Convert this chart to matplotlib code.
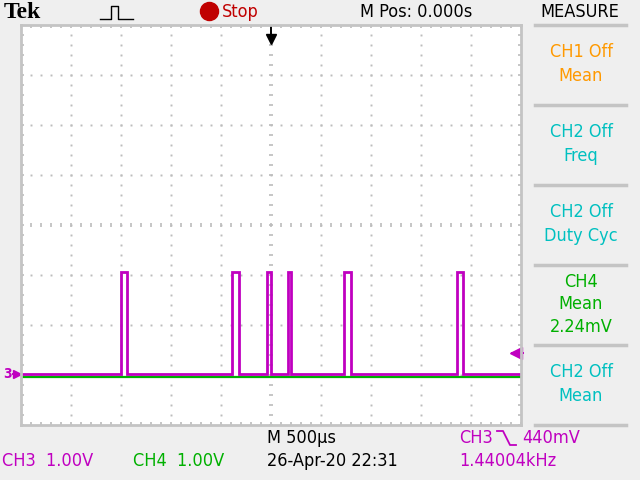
import matplotlib
matplotlib.use("Agg")
import matplotlib.pyplot as plt
from matplotlib.lines import Line2D

plt.rcParams['font.family'] = ['DejaVu Sans']
plt.rcParams['font.stretch'] = 'condensed'

# CH3 pulse edges, ms (500 us/div, trigger at 0)
rise_ms = [-1.503, -0.387, -0.043, 0.173, 0.733, 1.857]
fall_ms = [-1.443, -0.323, 0.000, 0.197, 0.800, 1.923]
ch3_low_v = 0.02
ch3_high_v = 2.06
ch3_offset_div = -3.0
ch4_level_v = -0.05
ch4_offset_div = -3.0
trig_level_v = 0.44

MAG = '#c000c0'
GRN = '#00b000'
ORA = '#ff9900'
CYA = '#00c0c0'
GRID = '#bcbcbc'
BG = '#efefef'
FS = 13

fig = plt.figure(figsize=(6.4, 4.8), dpi=100, facecolor=BG)


def fx(x):
    return x / 640


def fy(y):
    return 1 - y / 480


ax = fig.add_axes([fx(21), fy(425), 500 / 640, 400 / 480], facecolor='white')
ax.set_xlim(-2.5, 2.5)
ax.set_ylim(-4, 4)
ax.set_xticks([])
ax.set_yticks([])
for s in ax.spines.values():
    s.set_color('#c4c4c4')
    s.set_linewidth(2)

# dotted graticule
steps = [i * 0.2 for i in range(-20, 21)]
for k in range(-4, 5):
    if k == 0:
        continue
    ax.plot([k * 0.5] * len(steps), steps, ls='none', marker='s',
            ms=1.4, color=GRID, mew=0)
xs = [i * 0.1 for i in range(-25, 26)]
for k in range(-3, 4):
    if k == 0:
        continue
    ax.plot(xs, [k] * len(xs), ls='none', marker='s', ms=1.4, color=GRID, mew=0)

# center cross with ticks, and edge ticks
ax.plot([0] * len(steps), steps, ls='none', marker='_', ms=3.2, mew=1.2, color=GRID)
ax.plot(xs, [0] * len(xs), ls='none', marker='|', ms=3.2, mew=1.2, color=GRID)
ax.plot([-2.5] * len(steps), steps, ls='none', marker='_', ms=4, mew=1.2, color=GRID)
ax.plot([2.5] * len(steps), steps, ls='none', marker='_', ms=4, mew=1.2, color=GRID)
ax.plot(xs, [4] * len(xs), ls='none', marker='|', ms=4, mew=1.2, color=GRID)
ax.plot(xs, [-4] * len(xs), ls='none', marker='|', ms=4, mew=1.2, color=GRID)

# CH4 trace
ax.plot([-2.5, 2.5], [ch4_level_v + ch4_offset_div] * 2, color=GRN, lw=1.6,
        solid_capstyle='butt')

# CH3 trace
t = [-2.5]
v = [ch3_low_v]
for r, f in zip(rise_ms, fall_ms):
    t += [r, r, f, f]
    v += [ch3_low_v, ch3_high_v, ch3_high_v, ch3_low_v]
t.append(2.5)
v.append(ch3_low_v)
ax.plot(t, [vv + ch3_offset_div for vv in v], color=MAG, lw=2.0,
        solid_joinstyle='miter')

# markers: ground (left), trigger level (right), trigger position (top)
gy = ch3_low_v + ch3_offset_div
ax.plot([-2.58, -2.51], [gy, gy], color=MAG, lw=1.4, clip_on=False)
ax.plot([-2.545], [gy], marker='>', ms=6, color=MAG, clip_on=False)
ax.text(-2.64, gy, '3', color=MAG, fontsize=10, fontweight='bold',
        ha='center', va='center', clip_on=False)
ty = trig_level_v + ch3_offset_div
ax.plot([2.41, 2.52], [ty, ty], color=MAG, lw=1.4, clip_on=False)
ax.plot([2.45], [ty], marker='<', ms=8, color=MAG, clip_on=False)
ax.plot([0, 0], [3.96, 3.72], color='black', lw=1.4)
ax.plot([0], [3.72], marker='v', ms=7, color='black')

# header
fig.text(fx(4), fy(12), 'Tek', family=['Liberation Serif', 'DejaVu Serif'],
         fontsize=17, fontweight='bold', va='center', stretch='normal')
icon_x = [100, 103, 106, 109, 111, 111, 118, 118, 121, 124, 127, 130, 133]
icon_y = [19, 19, 19, 19, 19, 6, 6, 19, 19, 19, 19, 19, 19]
fig.add_artist(Line2D([fx(x) for x in icon_x], [fy(y) for y in icon_y],
                      color='black', lw=1.0, transform=fig.transFigure))
fig.add_artist(Line2D([fx(209)], [fy(11)], marker='o', ms=13, color='#c00000',
                      transform=fig.transFigure))
fig.text(fx(222), fy(12), 'Stop', color='#c00000', fontsize=FS, va='center')
fig.text(fx(360), fy(12), 'M Pos: 0.000s', fontsize=FS, va='center')
fig.text(fx(580), fy(12), 'MEASURE', fontsize=FS, va='center', ha='center')

# measure panel
for y in [25, 105, 185, 265, 345, 425]:
    fig.add_artist(Line2D([fx(535), fx(626)], [fy(y), fy(y)], color='#c4c4c4',
                          lw=2.5, transform=fig.transFigure))
panel = [
    (52, 'CH1 Off', ORA), (76, 'Mean', ORA),
    (132, 'CH2 Off', CYA), (156, 'Freq', CYA),
    (212, 'CH2 Off', CYA), (236, 'Duty Cyc', CYA),
    (282, 'CH4', GRN), (304, 'Mean', GRN), (327, '2.24mV', GRN),
    (372, 'CH2 Off', CYA), (396, 'Mean', CYA),
]
for y, s, c in panel:
    fig.text(fx(581), fy(y), s, color=c, fontsize=FS, ha='center', va='center')

# footer
fig.text(fx(267), fy(438), 'M 500\u00b5s', fontsize=FS, va='center')
fig.text(fx(459), fy(438), 'CH3', color=MAG, fontsize=FS, va='center')
edge_x = [497, 503, 510, 516]
edge_y = [431, 431, 445, 445]
fig.add_artist(Line2D([fx(x) for x in edge_x], [fy(y) for y in edge_y],
                      color=MAG, lw=1.3, transform=fig.transFigure))
fig.text(fx(522), fy(438), '440mV', color=MAG, fontsize=FS, va='center')
fig.text(fx(2), fy(461), 'CH3  1.00V', color=MAG, fontsize=FS, va='center')
fig.text(fx(133), fy(461), 'CH4  1.00V', color=GRN, fontsize=FS, va='center')
fig.text(fx(267), fy(461), '26-Apr-20 22:31', fontsize=FS, va='center')
fig.text(fx(459), fy(461), '1.44004kHz', color=MAG, fontsize=FS, va='center')

fig.savefig('out.png', dpi=100, facecolor=BG)
